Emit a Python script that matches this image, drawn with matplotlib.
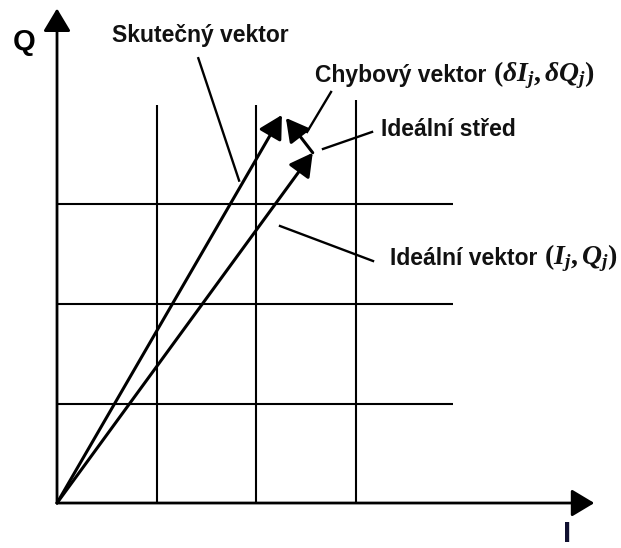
import matplotlib
matplotlib.use('Agg')
import matplotlib.pyplot as plt

plt.rcParams['font.family'] = ['Liberation Sans', 'DejaVu Sans']
plt.rcParams['mathtext.fontset'] = 'custom'
plt.rcParams['mathtext.rm'] = 'Liberation Serif:bold'
plt.rcParams['mathtext.it'] = 'Liberation Serif:bold:italic'
plt.rcParams['mathtext.bf'] = 'Liberation Serif:bold'

# data (grid units, origin = 0,0)
grid_ticks = [1, 2, 3]
grid_top = [4.0, 4.0, 4.05]        # top end of vertical grid lines
grid_right = 3.98                  # right end of horizontal grid lines
ideal_vec = (2.57, 3.52)           # ideal vector (I_j, Q_j)
actual_vec = (2.26, 3.90)          # actual vector
axis_len = (5.40, 4.97)            # I axis, Q axis

labels = ['Skutečný vektor', 'Chybový vektor', 'Ideální střed', 'Ideální vektor']
math_parts = ['', r'$(\delta I_j, \delta Q_j)$', '', r'$(I_j, Q_j)$']
label_pos = [(0.553, 4.70), (2.590, 4.30), (3.256, 3.75), (3.347, 2.46)]
leaders = [((1.42, 4.47), (1.83, 3.24)),
           ((2.754, 4.131), (2.513, 3.729)),
           ((3.166, 3.729), (2.673, 3.558)),
           ((2.241, 2.784), (3.176, 2.432))]

fig = plt.figure(figsize=(6.21, 5.48), dpi=100)
ax = fig.add_axes([0, 0, 1, 1])
ax.set_xlim(-0.573, 5.668)
ax.set_ylim(-0.452, 5.055)
ax.axis('off')

# grid
for i, t in enumerate(grid_ticks):
    ax.plot([t, t], [0, grid_top[i]], color='black', lw=1.5, solid_capstyle='butt')
    ax.plot([0, grid_right], [t, t], color='black', lw=1.5, solid_capstyle='butt')

# axes with arrows
ax_style = dict(arrowstyle='-|>,head_length=1.0,head_width=0.6', color='black',
                lw=2.0, shrinkA=0, shrinkB=0, mutation_scale=14)
ax.annotate('', xy=(axis_len[0], 0), xytext=(0, 0), arrowprops=ax_style)
ax.annotate('', xy=(0, axis_len[1]), xytext=(0, 0), arrowprops=ax_style)

# vectors
vec_style = dict(arrowstyle='-|>,head_length=1.0,head_width=0.55', color='black',
                 lw=2.2, shrinkA=0, shrinkB=0, mutation_scale=14)
ax.annotate('', xy=ideal_vec, xytext=(0, 0), arrowprops=vec_style)
ax.annotate('', xy=actual_vec, xytext=(0, 0), arrowprops=vec_style)
err_tip = (actual_vec[0] + 0.04, actual_vec[1] - 0.03)
ax.annotate('', xy=err_tip, xytext=ideal_vec, arrowprops=vec_style)

# leader lines and labels
for (p0, p1) in leaders:
    ax.plot([p0[0], p1[0]], [p0[1], p1[1]], color='black', lw=1.7)
for txt, mt, (x, y) in zip(labels, math_parts, label_pos):
    t = ax.text(x, y, txt, fontsize=16.5, fontweight='bold', ha='left', va='center',
                color='#111111')
    if mt:
        ax.annotate(mt, xy=(1, 0.5), xycoords=t, xytext=(5, 0),
                    textcoords='offset points', fontsize=20, ha='left',
                    va='center', color='#111111')

ax.text(-0.327, 4.63, 'Q', fontsize=21, fontweight='bold', ha='center', va='center')
ax.text(5.126, -0.17, 'I', fontsize=21, fontweight='bold', ha='center', va='top',
        color='#101030')

fig.savefig('out.png', dpi=100)
